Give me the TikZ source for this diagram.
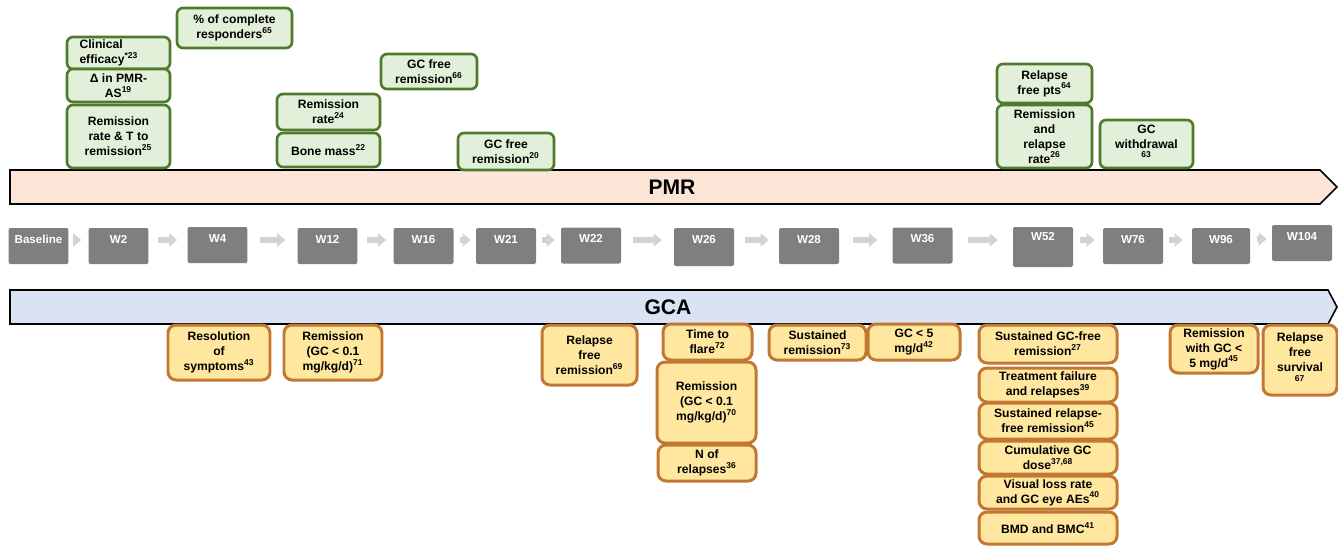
\documentclass[tikz,border=0pt]{standalone}
\usepackage{fontspec}
\setmainfont{Liberation Sans}
\usetikzlibrary{arrows.meta}
\definecolor{pmrfill}{HTML}{FBE5D6}
\definecolor{gcafill}{HTML}{DAE3F3}
\definecolor{grnfill}{HTML}{E2F0D9}
\definecolor{grndraw}{HTML}{4E7A2E}
\definecolor{orgfill}{HTML}{FFE7A0}
\definecolor{orgdraw}{HTML}{C27733}
\definecolor{wkgray}{HTML}{7F7F7F}
\definecolor{arrgray}{HTML}{D3D3D3}
\begin{document}
\begin{tikzpicture}[x=0.02cm,y=-0.02cm,
  boxsize/.style 2 args={minimum width=#1*0.02cm,minimum height=#2*0.02cm},
  grnbox/.style={draw=grndraw,fill=grnfill,line width=1.5pt,rounded corners=0.12cm,
    align=center,inner sep=0pt,font=\bfseries\fontsize{6.9}{8.5}\selectfont},
  orgbox/.style={draw=orgdraw,fill=orgfill,line width=1.7pt,rounded corners=0.16cm,
    align=center,inner sep=0pt,font=\bfseries\fontsize{6.9}{8.6}\selectfont},
  wkbox/.style={fill=wkgray,text=white,rounded corners=0.04cm,minimum width=1.2cm,
    inner sep=0pt,text height=0.3cm,text depth=0.42cm,font=\bfseries\fontsize{6.6}{8}\selectfont},
  wkarrow/.style={draw=arrgray,line width=0.13cm,-{Triangle[length=0.16cm,width=0.26cm]}},
  banner/.style={draw=black,line width=0.9pt},
  bannertext/.style={font=\bfseries\fontsize{12}{14}\selectfont}]

\useasboundingbox (0,0) rectangle (1338,545);

\draw[banner,fill=pmrfill] (10,170) -- (1320,170) -- (1337,187) -- (1320,204) -- (10,204) -- cycle;
\draw[banner,fill=gcafill] (10,290) -- (1328,290) -- (1337,307) -- (1328,324) -- (10,324) -- cycle;
\node[bannertext] (pmr) at (672,187) {PMR};
\node[bannertext] (gca) at (668,307) {GCA};

\node[grnbox,boxsize={103}{32},align=left,text width=1.56cm] (g1) at (118.5,53) {Clinical\\efficacy\textsuperscript{*23}};
\node[grnbox,boxsize={103}{33}] (g2) at (118.5,85.5) {Δ in PMR-\\AS\textsuperscript{19}};
\node[grnbox,boxsize={103}{63}] (g3) at (118.5,136.5) {Remission\\rate \& T to\\remission\textsuperscript{25}};
\node[grnbox,boxsize={115}{40}] (g4) at (234.5,28) {\% of complete\\responders\textsuperscript{65}};
\node[grnbox,boxsize={103}{36}] (g5) at (328.5,112) {Remission\\rate\textsuperscript{24}};
\node[grnbox,boxsize={103}{34}] (g6) at (328.5,150) {Bone mass\textsuperscript{22}};
\node[grnbox,boxsize={96}{35}] (g7) at (429,71.5) {GC free\\remission\textsuperscript{66}};
\node[grnbox,boxsize={96}{37}] (g8) at (506,151.5) {GC free\\remission\textsuperscript{20}};
\node[grnbox,boxsize={95}{39}] (g9) at (1044.5,83.5) {Relapse\\free pts\textsuperscript{64}};
\node[grnbox,boxsize={95}{63}] (g10) at (1044.5,136.5) {Remission\\and\\relapse\\rate\textsuperscript{26}};
\node[grnbox,boxsize={93}{48}] (g11) at (1146.5,144) {GC\\withdrawal\\\textsuperscript{63}};

\node[wkbox] (base) at (38.5,246) {Baseline};
\node[wkbox] (w2) at (118.5,246) {W2};
\node[wkbox] (w4) at (217.5,245) {W4};
\node[wkbox] (w12) at (327.5,246) {W12};
\node[wkbox] (w16) at (423.5,246) {W16};
\node[wkbox] (w21) at (506,246) {W21};
\node[wkbox] (w22) at (591,245.5) {W22};
\node[wkbox,text depth=0.46cm] (w26) at (704,247) {W26};
\node[wkbox] (w28) at (809,246) {W28};
\node[wkbox] (w36) at (922.5,245.5) {W36};
\node[wkbox,text height=0.26cm,text depth=0.54cm] (w52) at (1043,247) {W52};
\node[wkbox] (w76) at (1133,246) {W76};
\node[wkbox,minimum width=1.16cm] (w96) at (1221,246) {W96};
\node[wkbox] (w104) at (1302,243) {W104};

\draw[wkarrow,shorten <=0.1cm,shorten >=0.14cm] ([yshift=0.12cm]base.east) -- ([yshift=0.12cm]base.east -| w2.west);
\draw[wkarrow,shorten <=0.18cm,shorten >=0.2cm] ([yshift=0.12cm]w2.east) -- ([yshift=0.12cm]w2.east -| w4.west);
\draw[wkarrow,shorten <=0.24cm,shorten >=0.24cm] ([yshift=0.1cm]w4.east) -- ([yshift=0.1cm]w4.east -| w12.west);
\draw[wkarrow,shorten <=0.18cm,shorten >=0.14cm] ([yshift=0.12cm]w12.east) -- ([yshift=0.12cm]w12.east -| w16.west);
\draw[wkarrow,shorten <=0.12cm,shorten >=0.1cm] ([yshift=0.12cm]w16.east) -- ([yshift=0.12cm]w16.east -| w21.west);
\draw[wkarrow,shorten <=0.12cm,shorten >=0.12cm] ([yshift=0.12cm]w21.east) -- ([yshift=0.12cm]w21.east -| w22.west);
\draw[wkarrow,shorten <=0.24cm,shorten >=0.24cm] ([yshift=0.11cm]w22.east) -- ([yshift=0.11cm]w22.east -| w26.west);
\draw[wkarrow,shorten <=0.22cm,shorten >=0.2cm] ([yshift=0.14cm]w26.east) -- ([yshift=0.14cm]w26.east -| w28.west);
\draw[wkarrow,shorten <=0.28cm,shorten >=0.3cm] ([yshift=0.12cm]w28.east) -- ([yshift=0.12cm]w28.east -| w36.west);
\draw[wkarrow,shorten <=0.3cm,shorten >=0.3cm] ([yshift=0.11cm]w36.east) -- ([yshift=0.11cm]w36.east -| w52.west);
\draw[wkarrow,shorten <=0.14cm,shorten >=0.16cm] ([yshift=0.14cm]w52.east) -- ([yshift=0.14cm]w52.east -| w76.west);
\draw[wkarrow,shorten <=0.12cm,shorten >=0.18cm] ([yshift=0.12cm]w76.east) -- ([yshift=0.12cm]w76.east -| w96.west);
\draw[wkarrow,shorten <=0.14cm,shorten >=0.1cm] ([yshift=0.14cm]w96.east) -- ([yshift=0.14cm]w96.east -| w104.west);

\node[orgbox,boxsize={102}{55}] (o1) at (219,352.5) {Resolution\\of\\symptoms\textsuperscript{43}};
\node[orgbox,boxsize={98}{55}] (o2) at (333,352.5) {Remission\\(GC < 0.1\\mg/kg/d)\textsuperscript{71}};
\node[orgbox,boxsize={95}{60}] (o3) at (589.5,355) {Relapse\\free\\remission\textsuperscript{69}};
\node[orgbox,boxsize={89}{36}] (o4) at (707.5,342) {Time to\\flare\textsuperscript{72}};
\node[orgbox,boxsize={99}{81}] (o5) at (706.5,402.5) {Remission\\(GC < 0.1\\mg/kg/d)\textsuperscript{70}};
\node[orgbox,boxsize={98}{36}] (o6) at (707,463) {N of\\relapses\textsuperscript{36}};
\node[orgbox,boxsize={97}{35}] (o7) at (817.5,342.5) {Sustained\\remission\textsuperscript{73}};
\node[orgbox,boxsize={92}{36}] (o8) at (914,342) {GC < 5\\mg/d\textsuperscript{42}};
\node[orgbox,boxsize={138}{38}] (o9) at (1048,344) {Sustained GC-free\\remission\textsuperscript{27}};
\node[orgbox,boxsize={138}{34}] (o10) at (1048,385) {Treatment failure\\and relapses\textsuperscript{39}};
\node[orgbox,boxsize={138}{36}] (o11) at (1048,421) {Sustained relapse-\\free remission\textsuperscript{45}};
\node[orgbox,boxsize={138}{33}] (o12) at (1048,457.5) {Cumulative GC\\dose\textsuperscript{37,68}};
\node[orgbox,boxsize={138}{33}] (o13) at (1048,492.5) {Visual loss rate\\and GC eye AEs\textsuperscript{40}};
\node[orgbox,boxsize={138}{32}] (o14) at (1048,528) {BMD and BMC\textsuperscript{41}};
\node[orgbox,boxsize={88}{48}] (o15) at (1214,349) {Remission\\with GC <\\5 mg/d\textsuperscript{45}};
\node[orgbox,boxsize={74}{70}] (o16) at (1300,360) {Relapse\\free\\survival\\\textsuperscript{67}};

\end{tikzpicture}
\end{document}
